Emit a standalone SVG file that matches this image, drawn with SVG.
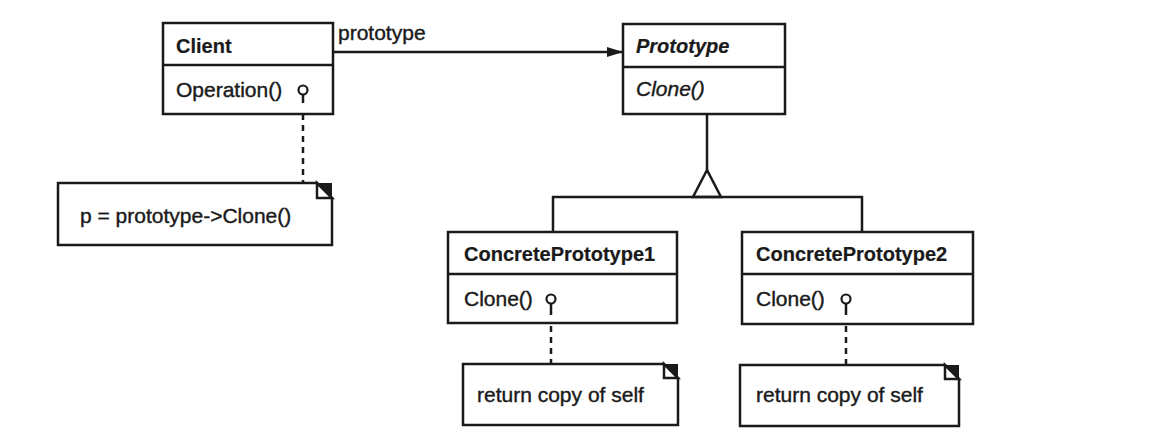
<svg xmlns="http://www.w3.org/2000/svg" width="1156" height="444" viewBox="0 0 1156 444">
<defs>
<style>
.box{fill:#fff;stroke:#1a1a1a;stroke-width:2.5}
.ln{fill:none;stroke:#1a1a1a;stroke-width:2.5}
.dash{fill:none;stroke:#1a1a1a;stroke-width:2.5;stroke-dasharray:6,5}
.t{font-family:"Liberation Sans",Arial,sans-serif;font-size:21px;fill:#1a1a1a;stroke:#1a1a1a;stroke-width:0.4}
.b{font-weight:bold;font-size:20px;stroke-width:0.2}
.i{font-style:italic}
.lol{fill:#fff;stroke:#1a1a1a;stroke-width:2.2}
</style>
<marker id="arr" viewBox="0 0 16 10" refX="16" refY="5" markerWidth="16" markerHeight="10" markerUnits="userSpaceOnUse" orient="auto">
<path d="M0,0 L16,5 L0,10 Z" fill="#1a1a1a"/>
</marker>
</defs>
<rect width="1156" height="444" fill="#fff"/>

<g id="connectors">
<line class="ln" x1="333" y1="52" x2="623" y2="52" marker-end="url(#arr)"/>
<text class="t" x="338" y="40">prototype</text>
<line class="ln" x1="707" y1="114" x2="707" y2="170"/>
<path class="ln" d="M707,170 L693,197 L721,197 Z" fill="#fff"/>
<path class="ln" d="M553,232 L553,197 L862,197 L862,232"/>
<line class="dash" x1="303" y1="103" x2="303" y2="183"/>
<line class="dash" x1="551" y1="315" x2="551" y2="364"/>
<line class="dash" x1="846" y1="315" x2="846" y2="365"/>
</g>

<g id="client">
<rect class="box" x="163" y="23" width="170" height="91"/>
<line class="ln" x1="163" y1="65" x2="333" y2="65"/>
<text class="t b" x="176" y="53">Client</text>
<text class="t" x="176" y="97">Operation()</text>
<line class="ln" x1="303" y1="95" x2="303" y2="103"/>
<circle class="lol" cx="303" cy="90" r="4.5"/>
</g>

<g id="prototype">
<rect class="box" x="623" y="24" width="162" height="90"/>
<line class="ln" x1="623" y1="67" x2="785" y2="67"/>
<text class="t b i" x="636" y="53">Prototype</text>
<text class="t i" x="636" y="96">Clone()</text>
</g>

<g id="concrete1">
<rect class="box" x="448" y="232" width="229" height="91"/>
<line class="ln" x1="448" y1="274" x2="677" y2="274"/>
<text class="t b" x="464" y="261">ConcretePrototype1</text>
<text class="t" x="464" y="306">Clone()</text>
<line class="ln" x1="551" y1="304" x2="551" y2="315"/>
<circle class="lol" cx="551" cy="299" r="4.5"/>
</g>

<g id="concrete2">
<rect class="box" x="742" y="232" width="231" height="92"/>
<line class="ln" x1="742" y1="274" x2="973" y2="274"/>
<text class="t b" x="756" y="261">ConcretePrototype2</text>
<text class="t" x="756" y="306">Clone()</text>
<line class="ln" x1="846" y1="304" x2="846" y2="315"/>
<circle class="lol" cx="846" cy="299" r="4.5"/>
</g>

<g id="note-client">
<path class="box" d="M58,183 L317,183 L332,198 L332,245 L58,245 Z"/>
<path d="M317,183 L332,183 L332,198 Z" fill="#1a1a1a"/>
<path class="box" d="M317,183 L317,198 L332,198 Z"/>
<text class="t" x="80" y="223">p = prototype-&gt;Clone()</text>
</g>

<g id="note-cp1">
<path class="box" d="M463,364 L664,364 L678,378 L678,425 L463,425 Z"/>
<path d="M664,364 L678,364 L678,378 Z" fill="#1a1a1a"/>
<path class="box" d="M664,364 L664,378 L678,378 Z"/>
<text class="t" x="477" y="402">return copy of self</text>
</g>

<g id="note-cp2">
<path class="box" d="M740,365 L945,365 L959,379 L959,426 L740,426 Z"/>
<path d="M945,365 L959,365 L959,379 Z" fill="#1a1a1a"/>
<path class="box" d="M945,365 L945,379 L959,379 Z"/>
<text class="t" x="756" y="402">return copy of self</text>
</g>
</svg>
